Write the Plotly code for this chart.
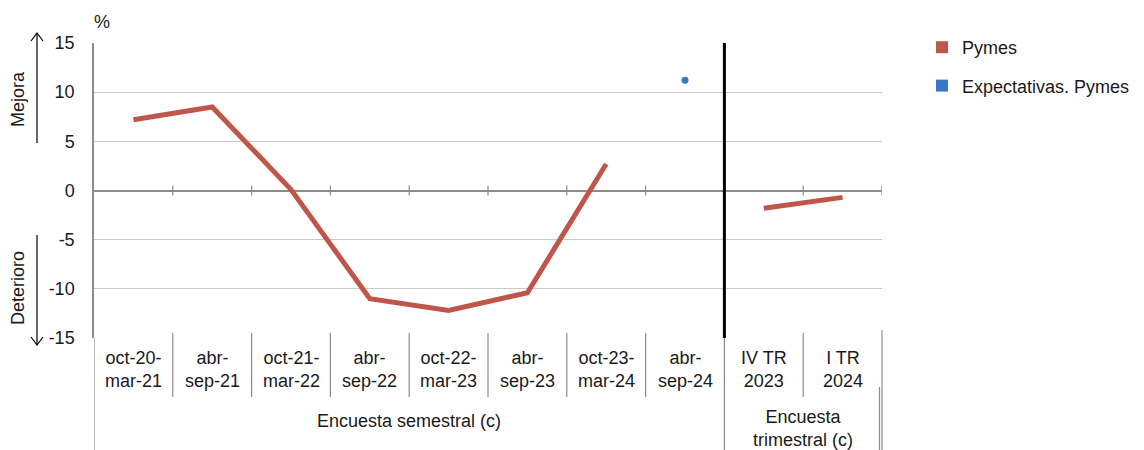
import plotly.graph_objects as go

# Survey periods (semester survey, then quarterly survey)
categories = ["oct-20-<br>mar-21", "abr-<br>sep-21", "oct-21-<br>mar-22", "abr-<br>sep-22",
              "oct-22-<br>mar-23", "abr-<br>sep-23", "oct-23-<br>mar-24", "abr-<br>sep-24",
              "IV TR<br>2023", "I TR<br>2024"]
groups = ["Encuesta semestral (c)", "Encuesta<br>trimestral (c)"]
group_sizes = [8, 2]

# Net balance, % (None = no data for that period)
pymes_semestral = [7.2, 8.5, 0.1, -11.0, -12.2, -10.4, 2.7, None]
pymes_trimestral = [-1.8, -0.7]
expectativas = [None, None, None, None, None, None, None, 11.2, None, None]

y_ticks = [-15, -10, -5, 0, 5, 10, 15]
y_tick_labels = ["-15", "-10", "-5", "0", "5", "10", "15"]

RED = "#C0564A"
BLUE = "#3A76C2"
GRID = "#C9C9C9"
AXIS = "#8C8C8C"
TXT = "#1a1a1a"
FONT = "Liberation Sans, Arial, sans-serif"
FS = 18

W, H = 1144, 450
n = len(categories)
xc = [i + 0.5 for i in range(n)]
n_sem = group_sizes[0]

def py(p):
    # pixel row -> paper y
    return 1 - p / H

def px(p):
    return p / W

fig = go.Figure()

fig.add_trace(go.Scatter(
    x=xc[:n_sem], y=pymes_semestral, mode="lines",
    line=dict(color=RED, width=5), connectgaps=False, showlegend=False, hoverinfo="skip"))
fig.add_trace(go.Scatter(
    x=xc[n_sem:], y=pymes_trimestral, mode="lines",
    line=dict(color=RED, width=5), showlegend=False, hoverinfo="skip"))
fig.add_trace(go.Scatter(
    x=xc, y=expectativas, mode="markers",
    marker=dict(color=BLUE, size=7), showlegend=False, hoverinfo="skip"))

# Legend entries drawn as square swatches
for name, col, grp in [("Pymes", RED, "a"), ("Expectativas. Pymes", BLUE, "b")]:
    fig.add_trace(go.Scatter(
        x=[None], y=[None], mode="markers", name=name, legendgroup=grp,
        marker=dict(color=col, size=15, symbol="square")))

shapes = []

# Zero axis tick marks at period boundaries
for b in range(1, n + 1):
    shapes.append(dict(type="line", xref="x", yref="y", x0=b, x1=b, y0=-0.5, y1=0.5,
                       line=dict(color=AXIS, width=1.2)))

# Category dividers below the plot
for b in range(1, n):
    if b == n_sem:
        continue
    shapes.append(dict(type="line", xref="x", yref="paper", x0=b, x1=b,
                       y0=py(397), y1=py(333), line=dict(color=AXIS, width=1.2)))
# Group dividers
for b in (0, n_sem):
    shapes.append(dict(type="line", xref="x", yref="paper", x0=b, x1=b,
                       y0=py(452), y1=py(338), line=dict(color=AXIS, width=1.2)))
shapes.append(dict(type="line", xref="paper", yref="paper", x0=px(882), x1=px(882),
                   y0=py(452), y1=py(330), line=dict(color=AXIS, width=1.2)))
shapes.append(dict(type="line", xref="paper", yref="paper", x0=px(879.5), x1=px(879.5),
                   y0=py(452), y1=py(387), line=dict(color=AXIS, width=1.2)))

# Break between semester and quarterly survey
shapes.append(dict(type="line", xref="x", yref="y", x0=n_sem, x1=n_sem,
                   y0=-15, y1=15.2, line=dict(color="black", width=3)))

# Mejora / Deterioro arrows
ax = px(37)
shapes.append(dict(type="line", xref="paper", yref="paper", x0=ax, x1=ax,
                   y0=py(143), y1=py(33), line=dict(color="black", width=1.2)))
shapes.append(dict(type="path", xref="paper", yref="paper",
                   path=f"M {px(31)} {py(41)} L {ax} {py(33)} L {px(43)} {py(41)}",
                   line=dict(color="black", width=1.2)))
shapes.append(dict(type="line", xref="paper", yref="paper", x0=ax, x1=ax,
                   y0=py(235), y1=py(345), line=dict(color="black", width=1.2)))
shapes.append(dict(type="path", xref="paper", yref="paper",
                   path=f"M {px(31)} {py(337)} L {ax} {py(345)} L {px(43)} {py(337)}",
                   line=dict(color="black", width=1.2)))

annotations = []
for x, lab in zip(xc, categories):
    annotations.append(dict(x=x, y=py(369), xref="x", yref="paper", text=lab,
                            showarrow=False, xanchor="center", yanchor="middle",
                            font=dict(size=FS, color=TXT, family=FONT)))
start = 0
for g, size in zip(groups, group_sizes):
    lines = g.count("<br>") + 1
    annotations.append(dict(x=start + size / 2, y=py(421 + (lines - 1) * 7), xref="x",
                            yref="paper", text=g, showarrow=False,
                            xanchor="center", yanchor="middle",
                            font=dict(size=FS, color=TXT, family=FONT)))
    start += size

annotations.append(dict(x=px(102), y=py(22), xref="paper", yref="paper", text="%",
                        showarrow=False, xanchor="center", yanchor="middle",
                        font=dict(size=FS, color=TXT, family=FONT)))
annotations.append(dict(x=px(18), y=py(99), xref="paper", yref="paper", text="Mejora",
                        showarrow=False, textangle=-90, xanchor="center", yanchor="middle",
                        font=dict(size=FS, color=TXT, family=FONT)))
annotations.append(dict(x=px(18), y=py(288), xref="paper", yref="paper", text="Deterioro",
                        showarrow=False, textangle=-90, xanchor="center", yanchor="middle",
                        font=dict(size=FS, color=TXT, family=FONT)))

fig.update_layout(
    width=W, height=H, autosize=False,
    margin=dict(l=0, r=0, t=0, b=0, pad=0, autoexpand=False),
    paper_bgcolor="white", plot_bgcolor="white",
    font=dict(family=FONT, size=FS, color=TXT),
    xaxis=dict(domain=[px(94), px(882)], range=[0, n], showgrid=False, zeroline=False,
               showticklabels=False, ticks="", showline=False, fixedrange=True,
               automargin=False),
    yaxis=dict(domain=[py(338), py(43)], range=[-15, 15],
               tickvals=y_ticks, ticktext=y_tick_labels,
               showgrid=True, gridcolor=GRID, gridwidth=1,
               zeroline=True, zerolinecolor=AXIS, zerolinewidth=2,
               showline=True, linecolor=AXIS, linewidth=1.5,
               ticks="", ticklabelstandoff=14, automargin=False,
               tickfont=dict(size=FS, color=TXT, family=FONT), fixedrange=True),
    showlegend=True,
    legend=dict(x=px(922), y=py(29), xanchor="left", yanchor="top",
                traceorder="grouped", tracegroupgap=12, itemsizing="constant",
                font=dict(size=FS, color=TXT, family=FONT), bgcolor="rgba(0,0,0,0)"),
    shapes=shapes, annotations=annotations,
)

fig.write_html("out.html", config={"responsive": False})
